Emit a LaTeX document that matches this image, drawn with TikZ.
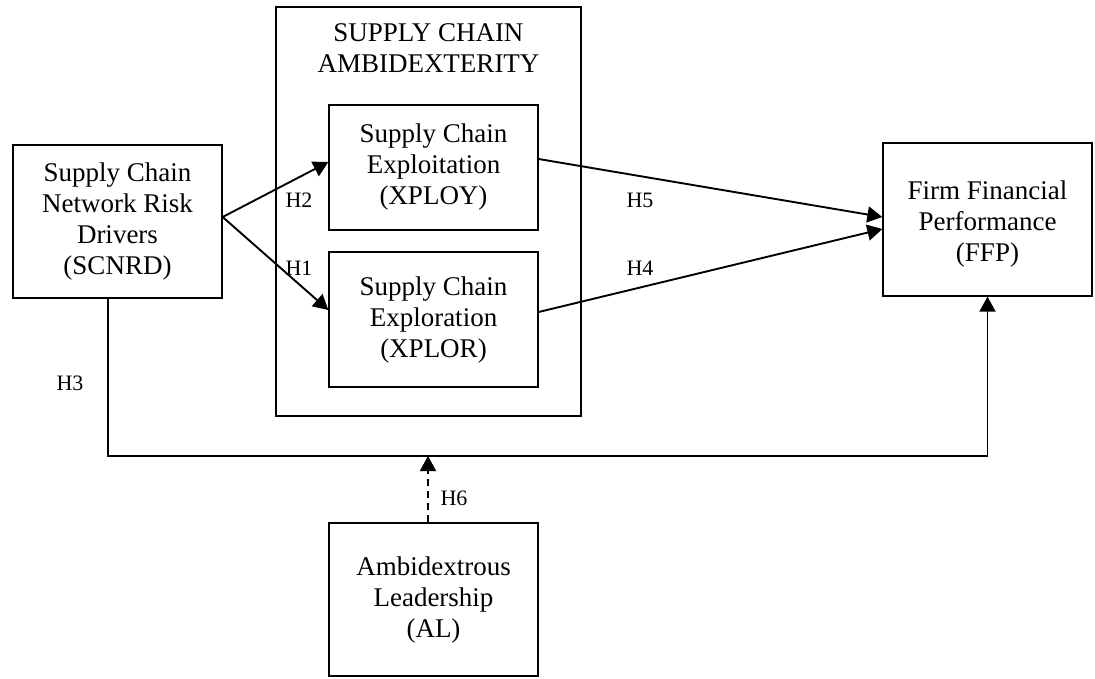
\documentclass[tikz,border=0pt]{standalone}
\usepackage{fontspec}
\setmainfont{Liberation Serif}
\usetikzlibrary{arrows.meta,calc}
\tikzset{
  box/.style={draw, line width=1.3pt, align=center, inner sep=0pt, font=\fontsize{27}{31}\selectfont},
  arr/.style={line width=1.9pt, -{Triangle[length=15pt,width=16pt]}},
  hlab/.style={font=\fontsize{22}{25}\selectfont, inner sep=0pt},
}
\begin{document}
\begin{tikzpicture}[x=1pt,y=-1pt]
\useasboundingbox (0,0) rectangle (1095,678);
\node[box, minimum width=305pt, minimum height=409pt] (amb) at (428.5,211.5) {};
\node[font=\fontsize{27}{31}\selectfont, align=center, inner sep=0pt] (ambt) at (428.5,48) {SUPPLY CHAIN\\AMBIDEXTERITY};
\node[box, minimum width=209pt, minimum height=153pt] (scnrd) at (117.5,221.5) {Supply Chain\\Network Risk\\Drivers\\(SCNRD)};
\node[box, minimum width=209pt, minimum height=125pt] (xploy) at (433.5,167.5) {Supply Chain\\Exploitation\\(XPLOY)};
\node[box, minimum width=209pt, minimum height=135pt] (xplor) at (433.5,319.5) {Supply Chain\\Exploration\\(XPLOR)};
\node[box, minimum width=209pt, minimum height=153pt] (ffp) at (987.5,219.5) {};
\node[font=\fontsize{27}{31}\selectfont, align=center, inner sep=0pt] (ffpt) at (987.5,224) {Firm Financial\\Performance\\(FFP)};
\node[box, minimum width=209pt, minimum height=153pt] (al) at (433.5,599.5) {Ambidextrous\\Leadership\\(AL)};
\coordinate (junc) at (428,456);
\draw[arr] ($(scnrd.east)+(0,-4.5)$) -- ($(xploy.west)+(0,-5.5)$);
\draw[arr] ($(scnrd.east)+(0,-4.5)$) -- ($(xplor.west)+(0,-9.5)$);
\draw[arr] ($(xploy.east)+(0,-8.5)$) -- ($(ffp.west)+(0,-2.5)$);
\draw[arr] ($(xplor.east)+(0,-7.5)$) -- ($(ffp.west)+(0,9.5)$);
\draw[arr] ($(scnrd.south)+(-9.5,0)$) |- (junc) -| (ffp.south);
\draw[arr, dash pattern=on 7pt off 5pt] ($(al.north)+(-5.5,0)$) -- (junc);
\node[hlab] (h2) at (299,200) {H2};
\node[hlab] (h1) at (299,268) {H1};
\node[hlab] (h5) at (640,200) {H5};
\node[hlab] (h4) at (640,268) {H4};
\node[hlab] (h3) at (70,383) {H3};
\node[hlab] (h6) at (454,498) {H6};
\end{tikzpicture}
\end{document}
